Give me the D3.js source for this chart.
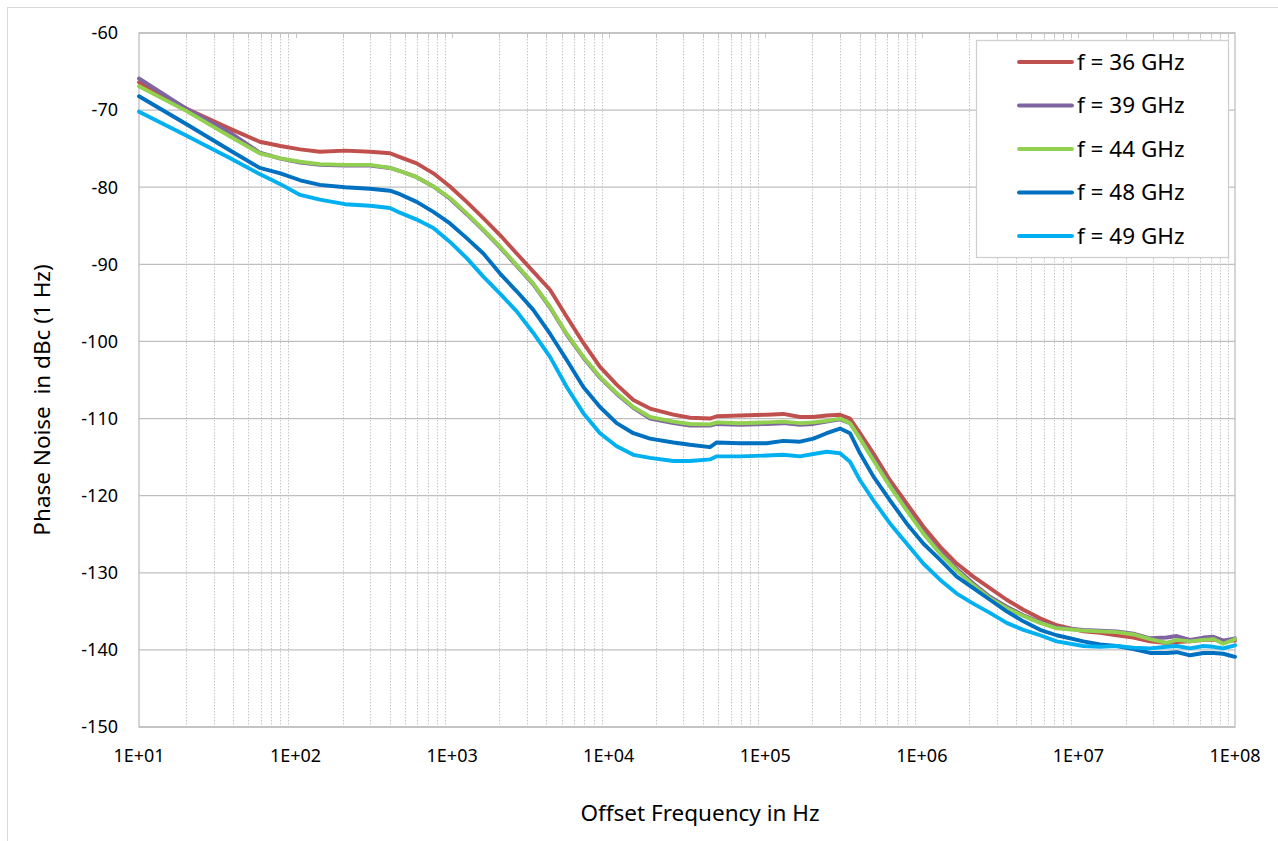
<!DOCTYPE html>
<html>
<head>
<meta charset="utf-8">
<title>Phase Noise</title>
<style>
  body { margin: 0; background: #ffffff; }
  svg text { font-family: "Noto Sans", "Open Sans", sans-serif; fill: #000; }
</style>
</head>
<body>
<script src="https://d3js.org/d3.v7.min.js"></script>
<script>
    // offset frequencies (Hz), shared by all traces
    var freqs = [10, 20, 38, 59, 80, 107, 143, 207, 299, 401, 464, 594, 759, 969, 1239, 1582, 2022, 2584,
        3298, 4217, 5392, 6886, 8795, 11240, 14360, 18360, 25870, 33040, 44350, 48980, 69000, 102000,
        130300, 166700, 202700, 246700, 300000, 347600, 402600, 489800, 625600, 799300, 1021000,
        1305000, 1670000, 2130000, 2720000, 3480000, 4450000, 5690000, 7260000, 10750000, 13730000,
        17550000, 22430000, 28660000, 36640000, 42430000, 51600000, 62800000, 72800000, 84200000, 100000000];

    var pn36 = [-66.4, -69.8, -72.4, -74.1, -74.65, -75.1, -75.4, -75.25, -75.4, -75.6, -76.1, -76.9, -78.2,
        -79.9, -81.9, -84.0, -86.2, -88.6, -90.95, -93.3, -96.8, -100.2, -103.3, -105.6, -107.6, -108.7,
        -109.5, -109.9, -110.0, -109.7, -109.6, -109.5, -109.4, -109.8, -109.8, -109.6, -109.5, -110.0,
        -111.9, -114.5, -118.0, -121.0, -124.0, -126.6, -128.8, -130.5, -132.0, -133.5, -134.8, -135.9,
        -136.8, -137.6, -137.8, -138.1, -138.4, -138.9, -139.1, -139.0, -138.9, -138.7, -138.7, -138.8, -138.8];

    var pn39 = [-65.9, -69.8, -72.9, -75.5, -76.3, -76.8, -77.1, -77.2, -77.2, -77.5, -77.9, -78.7, -79.9,
        -81.5, -83.5, -85.6, -87.8, -90.2, -92.6, -95.6, -99.1, -102.1, -104.7, -106.8, -108.6, -110.0,
        -110.6, -110.9, -110.9, -110.7, -110.8, -110.7, -110.6, -110.8, -110.7, -110.4, -110.1, -110.6,
        -112.5, -115.2, -118.6, -121.7, -124.7, -127.3, -129.5, -131.4, -133.1, -134.4, -135.5, -136.4,
        -137.1, -137.4, -137.5, -137.6, -137.9, -138.5, -138.4, -138.2, -138.7, -138.4, -138.3, -138.8, -138.5];

    var pn44 = [-66.9, -70.1, -73.4, -75.6, -76.25, -76.7, -77.0, -77.1, -77.1, -77.5, -77.9, -78.7, -79.9,
        -81.4, -83.4, -85.5, -87.7, -90.1, -92.5, -95.5, -99.0, -102.0, -104.6, -106.7, -108.5, -109.8,
        -110.4, -110.7, -110.75, -110.5, -110.6, -110.5, -110.4, -110.6, -110.5, -110.3, -110.0, -110.6,
        -112.6, -115.4, -118.8, -121.9, -124.9, -127.5, -129.7, -131.6, -133.3, -134.6, -135.6, -136.5,
        -137.2, -137.5, -137.6, -137.7, -138.0, -138.6, -139.1, -138.7, -138.9, -138.7, -138.6, -139.2, -138.6];

    var pn48 = [-68.2, -71.8, -75.2, -77.5, -78.2, -79.1, -79.7, -80.0, -80.2, -80.45, -80.9, -81.9, -83.2,
        -84.7, -86.6, -88.6, -91.2, -93.5, -95.9, -99.0, -102.4, -105.9, -108.5, -110.6, -111.9, -112.6,
        -113.1, -113.4, -113.7, -113.1, -113.2, -113.2, -112.9, -113.0, -112.6, -111.9, -111.3, -111.9,
        -114.5, -117.5, -120.6, -123.6, -126.2, -128.3, -130.5, -132.0, -133.5, -135.0, -136.3, -137.4,
        -138.1, -138.9, -139.3, -139.5, -139.9, -140.4, -140.4, -140.3, -140.7, -140.4, -140.4, -140.5, -140.9];

    var pn49 = [-70.2, -73.3, -76.2, -78.3, -79.6, -81.0, -81.6, -82.2, -82.4, -82.7, -83.3, -84.2, -85.3,
        -87.1, -89.2, -91.6, -93.8, -96.1, -98.9, -102.0, -105.9, -109.3, -111.9, -113.6, -114.7, -115.1,
        -115.5, -115.5, -115.3, -114.9, -114.9, -114.8, -114.7, -114.9, -114.6, -114.3, -114.5, -115.6,
        -118.0, -120.6, -123.6, -126.2, -128.8, -130.9, -132.7, -134.0, -135.2, -136.5, -137.4, -138.1,
        -138.9, -139.5, -139.6, -139.5, -139.7, -139.8, -139.6, -139.5, -139.8, -139.5, -139.6, -139.8, -139.4];

    var seriesNames = ["f = 36 GHz", "f = 39 GHz", "f = 44 GHz", "f = 48 GHz", "f = 49 GHz"];
    var seriesColors = ["#C0504D", "#8064A2", "#92D050", "#0070C0", "#00B0F0"];
    var seriesValues = [pn36, pn39, pn44, pn48, pn49];

    var yTicks = [-60, -70, -80, -90, -100, -110, -120, -130, -140, -150];
    var xTicks = [1e1, 1e2, 1e3, 1e4, 1e5, 1e6, 1e7, 1e8];
    var xTickLabels = ["1E+01", "1E+02", "1E+03", "1E+04", "1E+05", "1E+06", "1E+07", "1E+08"];

    var W = 1278, H = 841;
    var plot = {left: 139, right: 1235, top: 33, bottom: 727};

    var svg = d3.select("body").append("svg")
        .attr("width", W)
        .attr("height", H);

    // chart area border (only left and top are inside the picture)
    svg.append("rect")
        .attr("x", 7.5).attr("y", 7.5)
        .attr("width", W + 20).attr("height", H + 20)
        .attr("fill", "#fff")
        .attr("stroke", "#d9d9d9")
        .attr("stroke-width", 1);

    var x = d3.scaleLog().domain([10, 1e8]).range([plot.left, plot.right]);
    var y = d3.scaleLinear().domain([-150, -60]).range([plot.bottom, plot.top]);

    // minor vertical grid, dotted
    var minors = [];
    for (var k = 1; k < 8; k++) {
        for (var m = 2; m <= 9; m++) minors.push(m * Math.pow(10, k));
    }
    svg.append("g").selectAll("line")
        .data(minors)
        .join("line")
        .attr("x1", d => Math.round(x(d)) + 0.5)
        .attr("x2", d => Math.round(x(d)) + 0.5)
        .attr("y1", plot.top)
        .attr("y2", plot.bottom)
        .attr("stroke", "#c6c6c6")
        .attr("stroke-width", 1)
        .attr("stroke-dasharray", "1.5,1.5");

    // little ticks at the top edge
    svg.append("g").selectAll("line")
        .data(minors.concat(xTicks.slice(1, 7)))
        .join("line")
        .attr("x1", d => Math.round(x(d)) + 0.5)
        .attr("x2", d => Math.round(x(d)) + 0.5)
        .attr("y1", plot.top)
        .attr("y2", plot.top + 5)
        .attr("stroke", "#c6c6c6")
        .attr("stroke-width", 1);

    // horizontal grid
    svg.append("g").selectAll("line")
        .data(yTicks)
        .join("line")
        .attr("x1", plot.left)
        .attr("x2", plot.right)
        .attr("y1", d => y(d))
        .attr("y2", d => y(d))
        .attr("stroke", "#bfbfbf")
        .attr("stroke-width", 1.3);

    // plot area frame
    svg.append("rect")
        .attr("x", plot.left).attr("y", plot.top)
        .attr("width", plot.right - plot.left)
        .attr("height", plot.bottom - plot.top)
        .attr("fill", "none")
        .attr("stroke", "#bfbfbf")
        .attr("stroke-width", 1.3);

    // traces
    var line = d3.line()
        .x((d, i) => x(freqs[i]))
        .y(d => y(d));

    svg.append("g").selectAll("path")
        .data(seriesValues)
        .join("path")
        .attr("d", d => line(d))
        .attr("fill", "none")
        .attr("stroke", (d, i) => seriesColors[i])
        .attr("stroke-width", 3.9)
        .attr("stroke-linejoin", "round")
        .attr("stroke-linecap", "round");

    // y tick labels
    svg.append("g").selectAll("text")
        .data(yTicks)
        .join("text")
        .attr("x", 118)
        .attr("y", d => y(d))
        .attr("dy", "0.35em")
        .attr("text-anchor", "end")
        .style("font-size", "18px")
        .text(d => d);

    // x tick labels
    svg.append("g").selectAll("text")
        .data(xTicks)
        .join("text")
        .attr("x", d => x(d))
        .attr("y", 762)
        .attr("text-anchor", "middle")
        .style("font-size", "18px")
        .text((d, i) => xTickLabels[i]);

    // axis titles
    svg.append("text")
        .attr("x", 700)
        .attr("y", 821)
        .attr("text-anchor", "middle")
        .style("font-size", "22.5px")
        .text("Offset Frequency in Hz");

    svg.append("text")
        .attr("transform", "translate(50,400) rotate(-90)")
        .attr("text-anchor", "middle")
        .attr("xml:space", "preserve")
        .style("white-space", "pre")
        .style("font-size", "22.5px")
        .text("Phase Noise  in dBc (1 Hz)");

    // legend
    var legend = svg.append("g");
    legend.append("rect")
        .attr("x", 976.5).attr("y", 40.5)
        .attr("width", 252).attr("height", 217)
        .attr("fill", "#fff")
        .attr("stroke", "#d0d0d0")
        .attr("stroke-width", 1.3);

    var entry = legend.selectAll("g")
        .data(seriesNames)
        .join("g")
        .attr("transform", (d, i) => `translate(0,${62 + i * 43.5})`);

    entry.append("line")
        .attr("x1", 1019).attr("x2", 1072)
        .attr("y1", 0).attr("y2", 0)
        .attr("stroke", (d, i) => seriesColors[i])
        .attr("stroke-width", 3.9)
        .attr("stroke-linecap", "round");

    entry.append("text")
        .attr("x", 1077)
        .attr("y", 0)
        .attr("dy", "0.35em")
        .style("font-size", "22.5px")
        .text(d => d);
</script>
</body>
</html>
